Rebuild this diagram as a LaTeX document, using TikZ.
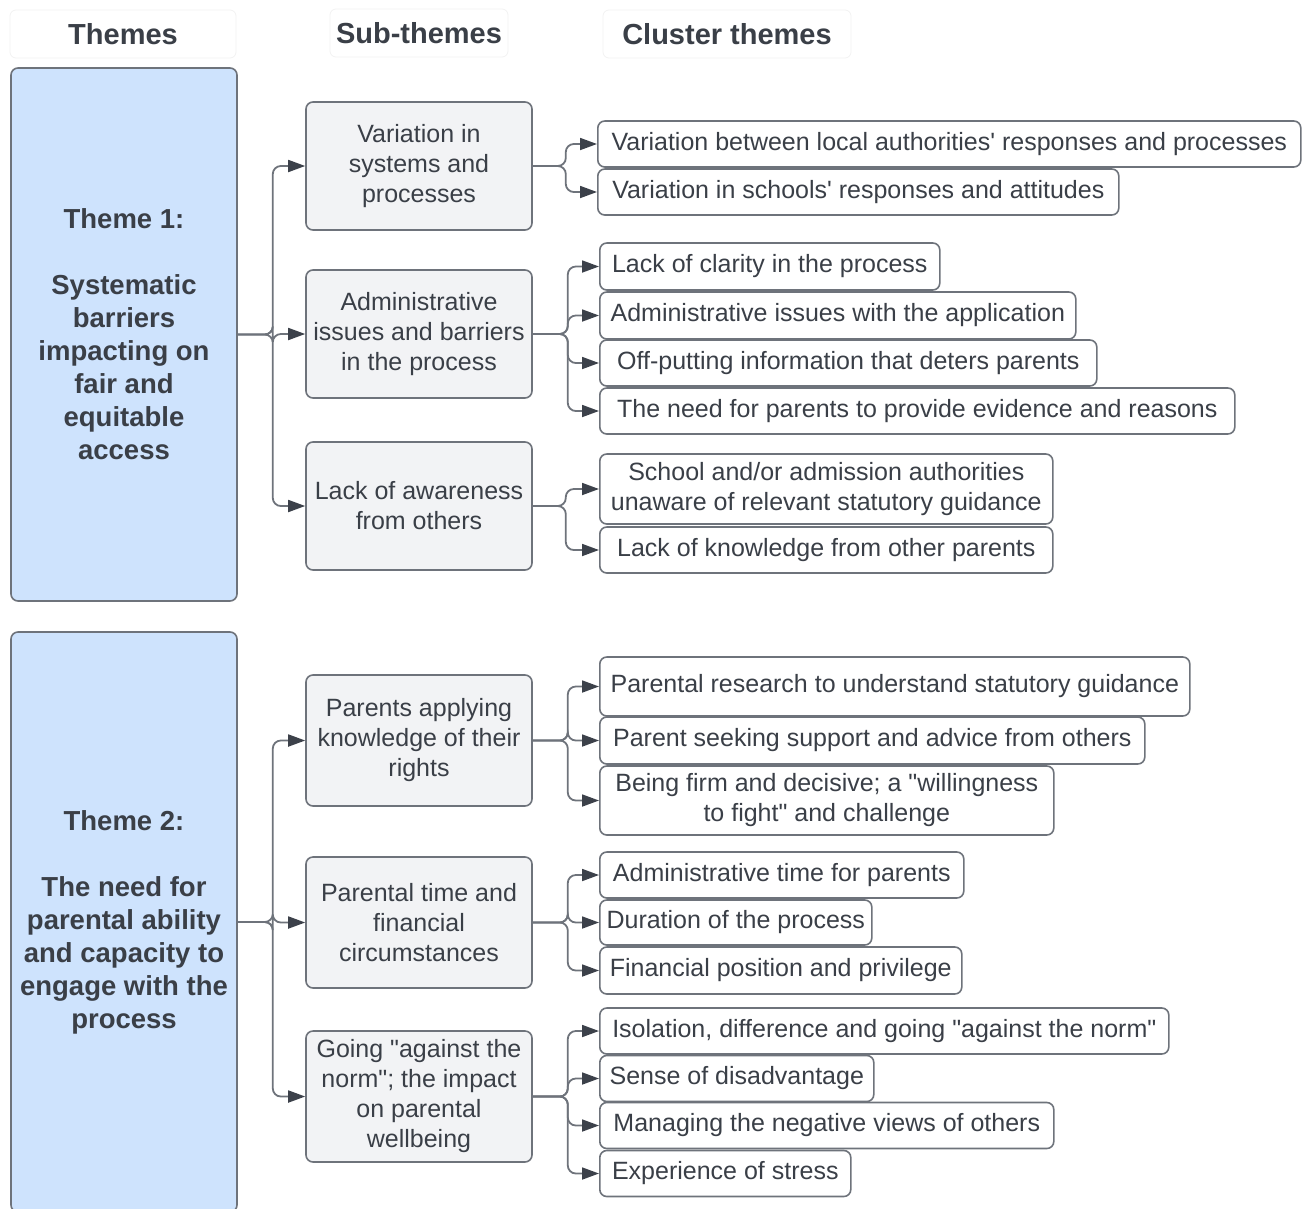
\documentclass[tikz,border=0pt]{standalone}
\usepackage{fontspec}
\setmainfont{Liberation Sans}[Ligatures=TeXOff]
\usetikzlibrary{arrows.meta}
\definecolor{ink}{HTML}{3A3F47}
\definecolor{edge}{HTML}{6E737B}
\definecolor{tipcol}{HTML}{3C414A}
\definecolor{themefill}{HTML}{CEE3FD}
\definecolor{subfill}{HTML}{F2F3F5}
\definecolor{headedge}{HTML}{F2F2F2}
\begin{document}
\begin{tikzpicture}[x=1pt,y=-1pt,
  every node/.style={text=ink, font=\fontsize{25}{30}\selectfont},
  headbox/.style={draw=headedge, rounded corners=6pt, line width=0.8pt,
    font=\fontsize{29}{34}\selectfont\bfseries, minimum height=48pt},
  themebox/.style={draw=edge, fill=themefill, rounded corners=7pt, line width=1.6pt,
    minimum width=226pt, align=center, font=\fontsize{27.5}{33}\selectfont\bfseries},
  subbox/.style={draw=edge, fill=subfill, rounded corners=7pt, line width=1.6pt,
    minimum width=226pt, align=center, inner sep=0pt},
  clusterbox/.style={draw=edge, fill=white, rounded corners=7pt, line width=1.6pt,
    anchor=west, minimum height=46pt, inner xsep=0pt, inner ysep=0pt, align=center},
  conn/.style={draw=edge, line width=1.8pt, rounded corners=8pt,
    -{Triangle[length=17pt,width=12pt,color=tipcol]}},
]
\useasboundingbox (0,0) rectangle (1306,1208);

% column headers
\node[headbox, minimum width=226pt] (h1) at (123,34) {Themes};
\node[headbox, minimum width=178pt] (h2) at (419,33) {Sub-themes};
\node[headbox, minimum width=248pt] (h3) at (727,34) {Cluster themes};

% themes
\node[themebox, minimum height=533pt] (t1) at (124,334.5)
  {Theme 1:\\[33pt]Systematic\\barriers\\impacting on\\fair and\\equitable\\access};
\node[themebox, minimum height=580pt] (t2) at (124,922)
  {Theme 2:\\[33pt]The need for\\parental ability\\and capacity to\\engage with the\\process};

% sub-themes
\node[subbox, minimum height=128pt] (s1) at (419,166) {Variation in\\systems and\\processes};
\node[subbox, minimum height=128pt] (s2) at (419,334) {Administrative\\issues and barriers\\in the process};
\node[subbox, minimum height=128pt] (s3) at (419,506) {Lack of awareness\\from others};
\node[subbox, minimum height=131pt] (s4) at (419,740.5) {Parents applying\\knowledge of their\\rights};
\node[subbox, minimum height=131pt] (s5) at (419,922.5) {Parental time and\\financial\\circumstances};
\node[subbox, minimum height=131pt] (s6) at (419,1096.5) {Going "against the\\norm"; the impact\\on parental\\wellbeing};

% cluster themes
\node[clusterbox, minimum width=703pt] (c1) at (597,144) {Variation between local authorities' responses and processes};
\node[clusterbox, minimum width=521pt] (c2) at (597,192) {Variation in schools' responses and attitudes};
\node[clusterbox, minimum width=340pt, minimum height=47pt] (c3) at (599,266.5) {Lack of clarity in the process};
\node[clusterbox, minimum width=476pt, minimum height=47pt] (c4) at (599,315.5) {Administrative issues with the application};
\node[clusterbox, minimum width=497pt] (c5) at (599,363) {Off-putting information that deters parents};
\node[clusterbox, minimum width=635pt] (c6) at (599,411) {The need for parents to provide evidence and reasons};
\node[clusterbox, minimum width=453pt, minimum height=70pt] (c7) at (599,489) {School and/or admission authorities\\unaware of relevant statutory guidance};
\node[clusterbox, minimum width=453pt] (c8) at (599,550) {Lack of knowledge from other parents};
\node[clusterbox, minimum width=590pt, minimum height=59pt] (c9) at (599,686.5) {Parental research to understand statutory guidance};
\node[clusterbox, minimum width=545pt, minimum height=47pt] (c10) at (599,740.5) {Parent seeking support and advice from others};
\node[clusterbox, minimum width=454pt, minimum height=69pt] (c11) at (599,800.5) {Being firm and decisive; a "willingness\\to fight" and challenge};
\node[clusterbox, minimum width=364pt] (c12) at (599,875) {Administrative time for parents};
\node[clusterbox, minimum width=272pt, minimum height=45pt] (c13) at (599,922.5) {Duration of the process};
\node[clusterbox, minimum width=362pt, minimum height=47pt] (c14) at (599,970.5) {Financial position and privilege};
\node[clusterbox, minimum width=569pt] (c15) at (599,1031) {Isolation, difference and going "against the norm"};
\node[clusterbox, minimum width=274pt] (c16) at (599,1078.5) {Sense of disadvantage};
\node[clusterbox, minimum width=454pt] (c17) at (599,1125.5) {Managing the negative views of others};
\node[clusterbox, minimum width=251pt] (c18) at (599,1173.5) {Experience of stress};

% theme -> sub-theme connectors
\foreach \s in {s1,s2,s3} \draw[conn] (t1.east) -- ++(35,0) |- (\s.west);
\foreach \s in {s4,s5,s6} \draw[conn] (t2.east) -- ++(35,0) |- (\s.west);

% sub-theme -> cluster connectors
\foreach \c in {c1,c2} \draw[conn] (s1.east) -- ++(33,0) |- (\c.west);
\foreach \c in {c3,c4,c5,c6} \draw[conn] (s2.east) -- ++(35,0) |- (\c.west);
\foreach \c in {c7,c8} \draw[conn] (s3.east) -- ++(33,0) |- (\c.west);
\foreach \c in {c9,c10,c11} \draw[conn] (s4.east) -- ++(35,0) |- (\c.west);
\foreach \c in {c12,c13,c14} \draw[conn] (s5.east) -- ++(35,0) |- (\c.west);
\foreach \c in {c15,c16,c17,c18} \draw[conn] (s6.east) -- ++(35,0) |- (\c.west);
\end{tikzpicture}
\end{document}
